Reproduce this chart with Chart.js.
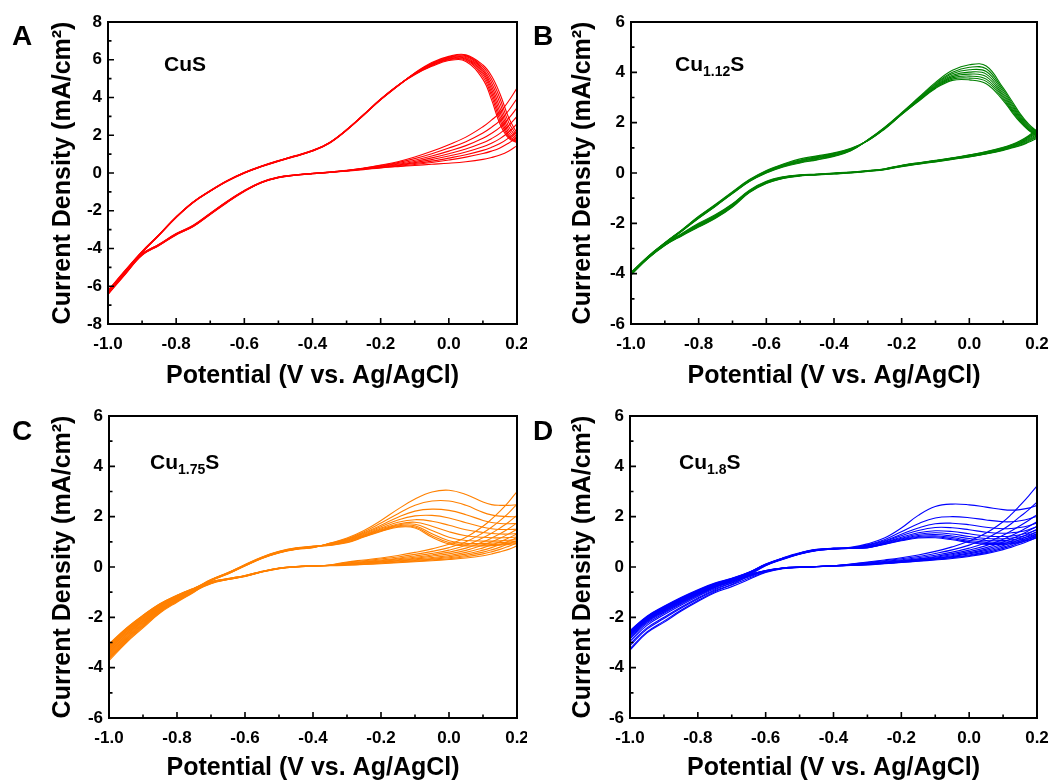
<!DOCTYPE html>
<html lang="en">
<head>
<meta charset="UTF-8">
<title>Cyclic voltammograms of copper sulfides</title>
<script src="https://cdn.jsdelivr.net/npm/chart.js@4.4.1/dist/chart.umd.min.js"></script>
<style>
    body { margin: 0; background: #fff; }
    #figure { position: relative; width: 1055px; height: 781px; overflow: hidden; }
    #figure canvas { position: absolute; }
</style>
</head>
<body>
<div id="figure">
    <canvas id="panelA" width="527" height="390" style="left:0;top:0"></canvas>
    <canvas id="panelB" width="528" height="390" style="left:527px;top:0"></canvas>
    <canvas id="panelC" width="527" height="391" style="left:0;top:390px"></canvas>
    <canvas id="panelD" width="528" height="391" style="left:527px;top:390px"></canvas>
</div>
<script>
// potential grid (V vs. Ag/AgCl) shared by every sweep
const potential = [-1.0, -0.95, -0.9, -0.85, -0.8, -0.75, -0.7, -0.65, -0.6, -0.55, -0.5, -0.45, -0.4,
    -0.35, -0.3, -0.25, -0.2, -0.15, -0.1, -0.05, 0.0, 0.05, 0.1, 0.125, 0.15, 0.175, 0.2];

const xTicks = [-1.0, -0.8, -0.6, -0.4, -0.2, 0.0, 0.2];
const xMinorTicks = [-0.9, -0.7, -0.5, -0.3, -0.1, 0.1];
const yTicksWide = [-8, -6, -4, -2, 0, 2, 4, 6, 8];
const yMinorWide = [-7, -5, -3, -1, 1, 3, 5, 7];
const yTicksNarrow = [-6, -4, -2, 0, 2, 4, 6];
const yMinorNarrow = [-5, -3, -1, 1, 3, 5];

// current density (mA/cm2), one row per cycle
const cusAnodic = [
    [-6.42,-5.30,-4.22,-3.30,-2.36,-1.57,-0.97,-0.44,-0.01,0.33,0.62,0.88,1.16,1.58,2.26,3.06,3.88,4.60,5.30,5.85,6.18,6.26,5.72,5.15,4.20,2.95,2.10],
    [-6.38,-5.28,-4.21,-3.29,-2.35,-1.56,-0.96,-0.43,0.00,0.34,0.63,0.89,1.17,1.59,2.27,3.07,3.89,4.61,5.29,5.82,6.15,6.22,5.62,4.98,3.95,2.70,1.98],
    [-6.35,-5.26,-4.20,-3.28,-2.35,-1.55,-0.96,-0.43,0.00,0.34,0.63,0.89,1.17,1.59,2.27,3.07,3.89,4.61,5.28,5.79,6.12,6.17,5.52,4.80,3.70,2.48,1.88],
    [-6.32,-5.24,-4.19,-3.28,-2.34,-1.55,-0.95,-0.42,0.01,0.35,0.64,0.90,1.18,1.60,2.28,3.08,3.90,4.62,5.27,5.76,6.09,6.12,5.42,4.62,3.45,2.30,1.80],
    [-6.30,-5.22,-4.18,-3.27,-2.34,-1.54,-0.95,-0.42,0.01,0.35,0.64,0.90,1.18,1.60,2.28,3.08,3.90,4.62,5.26,5.73,6.06,6.07,5.32,4.45,3.22,2.15,1.74],
    [-6.27,-5.20,-4.17,-3.27,-2.33,-1.54,-0.94,-0.41,0.02,0.36,0.65,0.91,1.19,1.61,2.29,3.09,3.91,4.63,5.25,5.70,6.03,6.02,5.22,4.28,3.00,2.02,1.68],
    [-6.25,-5.18,-4.16,-3.26,-2.33,-1.53,-0.94,-0.41,0.02,0.36,0.65,0.91,1.19,1.61,2.29,3.09,3.91,4.63,5.23,5.68,6.00,5.97,5.10,4.10,2.80,1.93,1.64],
    [-6.22,-5.16,-4.15,-3.26,-2.32,-1.53,-0.93,-0.40,0.03,0.37,0.66,0.92,1.20,1.62,2.30,3.10,3.92,4.64,5.21,5.65,5.96,5.91,4.96,3.90,2.60,1.85,1.60]
];
const cusCathodic = [
    [-6.20,-5.30,-4.28,-3.77,-3.21,-2.77,-2.13,-1.49,-0.93,-0.48,-0.22,-0.10,-0.02,0.05,0.14,0.26,0.42,0.60,0.85,1.15,1.50,1.90,2.45,2.80,3.20,3.80,4.50],
    [-6.24,-5.31,-4.29,-3.78,-3.22,-2.78,-2.14,-1.50,-0.94,-0.49,-0.22,-0.10,-0.02,0.05,0.13,0.25,0.39,0.55,0.76,1.02,1.32,1.66,2.12,2.42,2.78,3.30,3.95],
    [-6.28,-5.32,-4.30,-3.79,-3.23,-2.79,-2.15,-1.51,-0.94,-0.49,-0.23,-0.11,-0.03,0.04,0.13,0.24,0.36,0.50,0.68,0.90,1.16,1.45,1.84,2.10,2.42,2.88,3.45],
    [-6.31,-5.33,-4.31,-3.80,-3.24,-2.80,-2.16,-1.52,-0.95,-0.50,-0.23,-0.11,-0.03,0.04,0.12,0.23,0.34,0.46,0.61,0.80,1.02,1.27,1.60,1.82,2.10,2.50,3.00],
    [-6.34,-5.34,-4.32,-3.81,-3.25,-2.81,-2.17,-1.53,-0.96,-0.50,-0.24,-0.11,-0.03,0.04,0.12,0.22,0.32,0.42,0.55,0.71,0.90,1.11,1.39,1.58,1.82,2.16,2.60],
    [-6.37,-5.35,-4.33,-3.82,-3.26,-2.82,-2.18,-1.54,-0.96,-0.51,-0.24,-0.12,-0.04,0.03,0.11,0.21,0.30,0.39,0.50,0.63,0.79,0.97,1.20,1.36,1.56,1.85,2.22],
    [-6.40,-5.36,-4.34,-3.83,-3.27,-2.83,-2.19,-1.55,-0.97,-0.51,-0.25,-0.12,-0.04,0.03,0.11,0.20,0.28,0.36,0.45,0.56,0.69,0.84,1.03,1.16,1.33,1.58,1.88],
    [-6.44,-5.38,-4.36,-3.84,-3.28,-2.84,-2.20,-1.56,-0.98,-0.52,-0.25,-0.12,-0.04,0.03,0.10,0.18,0.27,0.34,0.40,0.46,0.52,0.60,0.72,0.82,0.95,1.15,1.45]
];

const cu112Anodic = [
    [-4.05,-3.38,-2.82,-2.32,-1.80,-1.32,-0.82,-0.34,0.00,0.24,0.40,0.52,0.66,0.88,1.32,1.82,2.40,3.00,3.60,4.08,4.30,4.25,3.38,2.88,2.36,1.95,1.65],
    [-4.03,-3.37,-2.81,-2.31,-1.79,-1.31,-0.81,-0.33,0.01,0.26,0.42,0.54,0.68,0.89,1.31,1.81,2.38,2.97,3.55,4.00,4.20,4.14,3.30,2.80,2.30,1.90,1.62],
    [-4.02,-3.36,-2.80,-2.30,-1.78,-1.30,-0.80,-0.32,0.03,0.28,0.44,0.57,0.70,0.91,1.31,1.80,2.37,2.95,3.52,3.94,4.10,4.03,3.22,2.73,2.24,1.86,1.59],
    [-4.00,-3.35,-2.80,-2.29,-1.77,-1.29,-0.79,-0.31,0.04,0.29,0.46,0.59,0.72,0.92,1.30,1.79,2.36,2.93,3.48,3.88,4.01,3.93,3.14,2.66,2.19,1.82,1.56],
    [-3.99,-3.34,-2.79,-2.28,-1.76,-1.28,-0.78,-0.30,0.06,0.31,0.48,0.61,0.74,0.94,1.30,1.78,2.35,2.91,3.45,3.83,3.93,3.83,3.07,2.59,2.14,1.78,1.53],
    [-3.98,-3.33,-2.78,-2.28,-1.75,-1.27,-0.77,-0.29,0.07,0.32,0.50,0.63,0.76,0.95,1.29,1.77,2.34,2.89,3.42,3.78,3.85,3.73,3.00,2.53,2.10,1.75,1.51],
    [-3.97,-3.32,-2.78,-2.27,-1.74,-1.26,-0.76,-0.28,0.08,0.34,0.52,0.65,0.78,0.96,1.29,1.76,2.33,2.87,3.39,3.73,3.77,3.64,2.94,2.48,2.06,1.72,1.49],
    [-3.95,-3.31,-2.77,-2.26,-1.72,-1.24,-0.74,-0.26,0.10,0.36,0.56,0.68,0.80,0.98,1.28,1.75,2.32,2.85,3.36,3.68,3.70,3.55,2.88,2.43,2.02,1.70,1.47]
];
const cu112Cathodic = [
    [-4.05,-3.40,-2.88,-2.50,-2.15,-1.80,-1.35,-0.78,-0.42,-0.22,-0.12,-0.08,-0.04,0.00,0.06,0.13,0.25,0.35,0.44,0.54,0.64,0.76,0.90,0.99,1.08,1.22,1.38],
    [-4.03,-3.39,-2.87,-2.48,-2.13,-1.78,-1.33,-0.77,-0.41,-0.21,-0.11,-0.07,-0.03,0.01,0.07,0.14,0.26,0.36,0.45,0.55,0.65,0.77,0.92,1.01,1.11,1.26,1.43],
    [-4.02,-3.38,-2.86,-2.47,-2.11,-1.76,-1.31,-0.75,-0.39,-0.20,-0.11,-0.07,-0.03,0.01,0.07,0.14,0.27,0.37,0.46,0.56,0.66,0.78,0.93,1.03,1.14,1.30,1.48],
    [-4.00,-3.37,-2.85,-2.46,-2.09,-1.74,-1.29,-0.74,-0.38,-0.19,-0.10,-0.06,-0.02,0.02,0.08,0.15,0.28,0.38,0.47,0.57,0.67,0.80,0.95,1.05,1.17,1.34,1.53],
    [-3.99,-3.37,-2.84,-2.45,-2.07,-1.72,-1.27,-0.72,-0.37,-0.18,-0.09,-0.06,-0.02,0.02,0.08,0.15,0.29,0.39,0.48,0.58,0.68,0.81,0.97,1.07,1.19,1.38,1.58],
    [-3.98,-3.36,-2.84,-2.43,-2.05,-1.70,-1.26,-0.71,-0.36,-0.17,-0.09,-0.05,-0.01,0.03,0.09,0.16,0.30,0.40,0.49,0.59,0.70,0.82,0.98,1.09,1.22,1.42,1.63],
    [-3.97,-3.36,-2.83,-2.42,-2.03,-1.68,-1.24,-0.70,-0.35,-0.16,-0.08,-0.05,-0.01,0.03,0.09,0.16,0.30,0.40,0.49,0.59,0.71,0.84,1.00,1.11,1.25,1.45,1.69],
    [-3.95,-3.35,-2.82,-2.40,-2.00,-1.65,-1.22,-0.68,-0.33,-0.15,-0.07,-0.04,0.00,0.04,0.10,0.17,0.31,0.41,0.50,0.60,0.72,0.85,1.02,1.13,1.28,1.48,1.75]
];

const cu175Anodic = [
    [-3.72,-3.02,-2.42,-1.83,-1.40,-1.00,-0.55,-0.28,0.04,0.34,0.56,0.70,0.77,0.95,1.15,1.45,1.85,2.30,2.70,2.98,3.05,2.88,2.58,2.48,2.45,2.45,2.47],
    [-3.62,-2.94,-2.35,-1.78,-1.37,-0.98,-0.55,-0.27,0.05,0.35,0.57,0.71,0.78,0.94,1.12,1.40,1.75,2.12,2.45,2.62,2.62,2.45,2.17,2.07,2.02,2.00,2.00],
    [-3.53,-2.86,-2.29,-1.73,-1.33,-0.96,-0.54,-0.26,0.05,0.35,0.57,0.71,0.78,0.93,1.10,1.36,1.66,1.98,2.22,2.30,2.25,2.08,1.85,1.77,1.73,1.72,1.73],
    [-3.45,-2.79,-2.23,-1.69,-1.30,-0.94,-0.53,-0.26,0.06,0.36,0.58,0.72,0.79,0.92,1.08,1.33,1.60,1.87,2.03,2.05,1.95,1.76,1.58,1.52,1.49,1.49,1.50],
    [-3.38,-2.72,-2.17,-1.65,-1.27,-0.92,-0.53,-0.25,0.07,0.36,0.58,0.72,0.79,0.91,1.06,1.30,1.55,1.78,1.88,1.82,1.66,1.48,1.37,1.33,1.31,1.31,1.33],
    [-3.31,-2.66,-2.12,-1.61,-1.24,-0.90,-0.52,-0.24,0.07,0.37,0.59,0.73,0.80,0.90,1.04,1.27,1.51,1.71,1.78,1.62,1.40,1.24,1.18,1.16,1.16,1.17,1.19],
    [-3.25,-2.60,-2.07,-1.57,-1.21,-0.89,-0.52,-0.24,0.08,0.37,0.60,0.74,0.81,0.89,1.02,1.25,1.48,1.67,1.70,1.45,1.18,1.05,1.03,1.03,1.04,1.06,1.09],
    [-3.19,-2.55,-2.02,-1.53,-1.18,-0.87,-0.51,-0.23,0.08,0.38,0.60,0.74,0.81,0.88,1.00,1.23,1.45,1.64,1.64,1.32,1.04,0.94,0.94,0.95,0.97,0.99,1.02],
    [-3.13,-2.50,-1.97,-1.50,-1.15,-0.86,-0.51,-0.23,0.09,0.39,0.61,0.75,0.82,0.87,0.98,1.21,1.43,1.61,1.59,1.24,0.97,0.88,0.88,0.89,0.91,0.94,0.97],
    [-3.08,-2.45,-1.92,-1.46,-1.12,-0.84,-0.50,-0.22,0.10,0.40,0.62,0.76,0.83,0.86,0.96,1.19,1.41,1.58,1.55,1.18,0.92,0.84,0.84,0.85,0.87,0.90,0.93]
];
const cu175Cathodic = [
    [-3.66,-2.98,-2.38,-1.80,-1.36,-0.97,-0.66,-0.50,-0.38,-0.20,-0.07,0.00,0.03,0.08,0.20,0.28,0.36,0.46,0.58,0.72,0.90,1.18,1.62,1.90,2.22,2.58,3.00],
    [-3.57,-2.90,-2.32,-1.75,-1.33,-0.95,-0.65,-0.50,-0.38,-0.20,-0.07,0.00,0.03,0.08,0.18,0.25,0.32,0.40,0.50,0.62,0.77,1.00,1.36,1.58,1.84,2.14,2.50],
    [-3.49,-2.83,-2.26,-1.71,-1.30,-0.93,-0.64,-0.49,-0.37,-0.19,-0.06,0.00,0.03,0.07,0.16,0.22,0.28,0.35,0.44,0.54,0.67,0.86,1.16,1.34,1.55,1.78,2.05],
    [-3.42,-2.76,-2.20,-1.67,-1.27,-0.91,-0.63,-0.49,-0.37,-0.19,-0.06,0.01,0.04,0.07,0.14,0.20,0.25,0.32,0.39,0.48,0.59,0.75,1.00,1.15,1.32,1.52,1.75],
    [-3.35,-2.70,-2.15,-1.63,-1.24,-0.90,-0.62,-0.48,-0.36,-0.19,-0.06,0.01,0.04,0.07,0.13,0.18,0.23,0.29,0.35,0.43,0.52,0.66,0.87,1.00,1.14,1.31,1.50],
    [-3.28,-2.64,-2.10,-1.59,-1.21,-0.88,-0.61,-0.48,-0.36,-0.18,-0.05,0.01,0.04,0.06,0.12,0.16,0.21,0.26,0.32,0.38,0.46,0.58,0.76,0.87,1.00,1.15,1.32],
    [-3.22,-2.58,-2.05,-1.55,-1.18,-0.87,-0.60,-0.47,-0.35,-0.18,-0.05,0.01,0.04,0.06,0.11,0.15,0.19,0.24,0.29,0.34,0.41,0.51,0.67,0.77,0.89,1.02,1.17],
    [-3.16,-2.53,-2.00,-1.52,-1.16,-0.86,-0.60,-0.47,-0.35,-0.18,-0.05,0.02,0.05,0.06,0.09,0.13,0.17,0.21,0.26,0.31,0.37,0.46,0.59,0.68,0.79,0.92,1.05],
    [-3.11,-2.48,-1.96,-1.49,-1.14,-0.85,-0.59,-0.46,-0.34,-0.17,-0.04,0.02,0.05,0.06,0.08,0.11,0.15,0.19,0.23,0.28,0.33,0.41,0.52,0.60,0.70,0.82,0.95],
    [-3.06,-2.44,-1.92,-1.46,-1.12,-0.84,-0.59,-0.46,-0.34,-0.17,-0.04,0.02,0.05,0.05,0.07,0.10,0.13,0.17,0.21,0.25,0.30,0.36,0.45,0.52,0.60,0.70,0.84]
];

const cu18Anodic = [
    [-3.25,-2.58,-2.15,-1.72,-1.33,-0.98,-0.70,-0.35,0.05,0.30,0.51,0.65,0.72,0.78,0.92,1.15,1.55,2.05,2.40,2.50,2.47,2.38,2.28,2.26,2.28,2.34,2.45],
    [-3.05,-2.42,-2.00,-1.60,-1.23,-0.90,-0.63,-0.31,0.06,0.31,0.52,0.66,0.71,0.76,0.88,1.08,1.40,1.72,1.95,2.00,1.96,1.87,1.80,1.80,1.84,1.91,2.02],
    [-2.85,-2.25,-1.84,-1.47,-1.13,-0.82,-0.57,-0.28,0.07,0.32,0.52,0.66,0.71,0.75,0.86,1.04,1.30,1.55,1.72,1.74,1.68,1.58,1.52,1.53,1.57,1.64,1.75],
    [-2.75,-2.17,-1.77,-1.41,-1.08,-0.78,-0.54,-0.26,0.08,0.32,0.53,0.67,0.72,0.75,0.84,1.01,1.24,1.45,1.57,1.56,1.48,1.38,1.34,1.36,1.40,1.48,1.60],
    [-2.70,-2.12,-1.72,-1.37,-1.04,-0.75,-0.52,-0.25,0.09,0.33,0.53,0.67,0.72,0.75,0.82,0.98,1.18,1.36,1.44,1.41,1.32,1.23,1.21,1.23,1.28,1.36,1.48],
    [-2.66,-2.08,-1.68,-1.33,-1.01,-0.72,-0.50,-0.24,0.09,0.33,0.54,0.68,0.73,0.75,0.80,0.96,1.14,1.30,1.36,1.31,1.21,1.13,1.12,1.15,1.20,1.28,1.40],
    [-2.62,-2.04,-1.65,-1.30,-0.98,-0.70,-0.48,-0.23,0.10,0.34,0.54,0.68,0.73,0.75,0.79,0.94,1.11,1.25,1.29,1.23,1.13,1.05,1.05,1.08,1.13,1.21,1.33],
    [-2.59,-2.01,-1.62,-1.27,-0.95,-0.68,-0.47,-0.22,0.10,0.35,0.55,0.69,0.74,0.75,0.78,0.92,1.08,1.21,1.24,1.17,1.06,0.99,0.99,1.02,1.07,1.15,1.27],
    [-2.56,-1.98,-1.59,-1.24,-0.93,-0.66,-0.46,-0.22,0.11,0.35,0.55,0.69,0.74,0.75,0.77,0.91,1.06,1.18,1.20,1.12,1.01,0.94,0.94,0.97,1.02,1.10,1.22],
    [-2.53,-1.95,-1.56,-1.21,-0.90,-0.64,-0.45,-0.21,0.12,0.36,0.56,0.70,0.75,0.75,0.76,0.90,1.04,1.15,1.16,1.08,0.97,0.90,0.90,0.93,0.98,1.06,1.17]
];
const cu18Cathodic = [
    [-3.30,-2.62,-2.20,-1.76,-1.37,-1.02,-0.78,-0.50,-0.22,-0.07,-0.02,0.01,0.05,0.12,0.20,0.28,0.37,0.48,0.62,0.80,1.03,1.35,1.80,2.10,2.45,2.82,3.22],
    [-3.12,-2.47,-2.05,-1.64,-1.27,-0.94,-0.71,-0.45,-0.20,-0.06,-0.02,0.01,0.05,0.11,0.18,0.25,0.33,0.42,0.54,0.68,0.87,1.13,1.50,1.73,2.00,2.27,2.58],
    [-2.95,-2.32,-1.90,-1.52,-1.17,-0.86,-0.64,-0.40,-0.18,-0.06,-0.01,0.01,0.05,0.10,0.16,0.22,0.29,0.37,0.47,0.59,0.75,0.96,1.26,1.44,1.64,1.85,2.08],
    [-2.80,-2.20,-1.80,-1.44,-1.10,-0.81,-0.60,-0.37,-0.17,-0.05,-0.01,0.01,0.05,0.09,0.14,0.20,0.26,0.33,0.42,0.53,0.67,0.85,1.10,1.25,1.42,1.60,1.80],
    [-2.72,-2.14,-1.74,-1.39,-1.06,-0.78,-0.57,-0.35,-0.16,-0.05,-0.01,0.02,0.05,0.08,0.13,0.18,0.24,0.31,0.39,0.49,0.61,0.77,0.99,1.12,1.27,1.44,1.62],
    [-2.67,-2.10,-1.70,-1.35,-1.03,-0.75,-0.55,-0.34,-0.16,-0.05,-0.01,0.02,0.04,0.08,0.12,0.17,0.22,0.29,0.36,0.45,0.56,0.71,0.91,1.03,1.17,1.33,1.50],
    [-2.63,-2.06,-1.66,-1.32,-1.00,-0.73,-0.53,-0.33,-0.15,-0.04,0.00,0.02,0.04,0.07,0.11,0.16,0.21,0.27,0.34,0.42,0.52,0.66,0.85,0.96,1.09,1.24,1.40],
    [-2.60,-2.03,-1.63,-1.29,-0.97,-0.71,-0.52,-0.32,-0.15,-0.04,0.00,0.02,0.04,0.07,0.10,0.15,0.20,0.25,0.32,0.39,0.48,0.61,0.79,0.90,1.02,1.16,1.32],
    [-2.57,-2.00,-1.60,-1.26,-0.95,-0.69,-0.51,-0.31,-0.14,-0.04,0.00,0.02,0.04,0.06,0.09,0.14,0.19,0.24,0.30,0.37,0.45,0.57,0.74,0.84,0.96,1.10,1.25],
    [-2.54,-1.97,-1.58,-1.24,-0.93,-0.67,-0.50,-0.31,-0.14,-0.04,0.00,0.02,0.04,0.06,0.08,0.13,0.18,0.23,0.28,0.34,0.42,0.53,0.69,0.79,0.90,1.03,1.18]
];

const FONT = '"Liberation Sans", Arial, Helvetica, sans-serif';

// frame, inward tick marks, panel letter and sample name
const panelDecor = {
    id: 'panelDecor',
    afterDraw(chart, args, opts) {
        const { ctx, chartArea: area, scales: { x, y } } = chart;
        ctx.save();
        ctx.strokeStyle = '#000';
        ctx.lineWidth = 1.6;
        ctx.beginPath();
        xTicks.forEach(v => { const px = x.getPixelForValue(v); ctx.moveTo(px, area.bottom); ctx.lineTo(px, area.bottom - 6); });
        xMinorTicks.forEach(v => { const px = x.getPixelForValue(v); ctx.moveTo(px, area.bottom); ctx.lineTo(px, area.bottom - 3.5); });
        opts.yMajor.forEach(v => { const py = y.getPixelForValue(v); ctx.moveTo(area.left, py); ctx.lineTo(area.left + 6, py); });
        opts.yMinor.forEach(v => { const py = y.getPixelForValue(v); ctx.moveTo(area.left, py); ctx.lineTo(area.left + 3.5, py); });
        ctx.stroke();
        ctx.lineWidth = 2;
        ctx.strokeRect(area.left, area.top, area.right - area.left, area.bottom - area.top);

        ctx.fillStyle = '#000';
        ctx.textBaseline = 'alphabetic';
        ctx.textAlign = 'left';
        ctx.font = 'bold 28px ' + FONT;
        ctx.fillText(opts.letter, opts.letterPos[0], opts.letterPos[1]);

        // sample name with subscript
        let cx = opts.namePos[0];
        opts.name.forEach(part => {
            ctx.font = 'bold ' + (part.sub ? 14 : 21) + 'px ' + FONT;
            ctx.fillText(part.text, cx, opts.namePos[1] + (part.sub ? 5 : 0));
            cx += ctx.measureText(part.text).width;
        });
        ctx.restore();
    }
};

function sweepData(values) {
    return values.map((v, i) => ({ x: potential[i], y: v }));
}

function drawPanel(canvasId, p) {
    const sweeps = p.anodic.concat(p.cathodic);
    const tickFont = { family: FONT, size: 17, weight: 'bold' };
    const titleFont = { family: FONT, size: 25, weight: 'bold', lineHeight: 1 };
    new Chart(document.getElementById(canvasId), {
        type: 'line',
        data: {
            datasets: sweeps.map(s => ({
                data: sweepData(s),
                borderColor: p.color,
                borderWidth: 1.1,
                pointRadius: 0,
                tension: 0.4,
                fill: false
            }))
        },
        options: {
            responsive: false,
            animation: false,
            devicePixelRatio: 1,
            layout: { autoPadding: false, padding: { left: 0, top: p.top, right: p.right, bottom: 0 } },
            plugins: {
                legend: { display: false },
                tooltip: { enabled: false },
                panelDecor: { letter: p.letter, letterPos: p.letterPos, name: p.name, namePos: p.namePos, yMajor: p.yTicks, yMinor: p.yMinor }
            },
            scales: {
                x: {
                    type: 'linear',
                    min: -1.0,
                    max: 0.2,
                    afterBuildTicks: s => { s.ticks = xTicks.map(v => ({ value: v })); },
                    afterFit: s => {
                        s.height = p.xHeight;
                        // end labels may overhang the frame, keep the plot width fixed
                        s.paddingLeft = 0;
                        s.paddingRight = 0;
                    },
                    grid: { display: false, drawTicks: false },
                    border: { display: false },
                    ticks: { color: '#000', font: tickFont, padding: 10, maxRotation: 0, autoSkip: false, callback: v => v.toFixed(1) },
                    title: { display: true, text: 'Potential (V vs. Ag/AgCl)', color: '#000', font: titleFont, padding: { top: 0, bottom: p.xTitlePad } }
                },
                y: {
                    type: 'linear',
                    min: p.yTicks[0],
                    max: p.yTicks[p.yTicks.length - 1],
                    afterBuildTicks: s => { s.ticks = p.yTicks.map(v => ({ value: v })); },
                    afterFit: s => {
                        s.width = p.yWidth;
                        s.paddingTop = 0;
                        s.paddingBottom = 0;
                    },
                    grid: { display: false, drawTicks: false },
                    border: { display: false },
                    ticks: { color: '#000', font: tickFont, padding: 6, autoSkip: false, callback: v => String(v) },
                    title: { display: true, text: 'Current Density (mA/cm²)', color: '#000', font: titleFont, padding: { top: p.yTitlePad, bottom: 0 } }
                }
            }
        },
        plugins: [panelDecor]
    });
}

drawPanel('panelA', {
    anodic: cusAnodic, cathodic: cusCathodic, color: '#ff0000',
    yTicks: yTicksWide, yMinor: yMinorWide,
    top: 22, right: 10, yWidth: 108, xHeight: 66, xTitlePad: 1.5, yTitlePad: 50.5,
    letter: 'A', letterPos: [12, 45], name: [{ text: 'CuS' }], namePos: [164, 71]
});
drawPanel('panelB', {
    anodic: cu112Anodic, cathodic: cu112Cathodic, color: '#008000',
    yTicks: yTicksNarrow, yMinor: yMinorNarrow,
    top: 22, right: 18, yWidth: 104, xHeight: 66, xTitlePad: 1.5, yTitlePad: 43.5,
    letter: 'B', letterPos: [6, 45], name: [{ text: 'Cu' }, { text: '1.12', sub: true }, { text: 'S' }], namePos: [148, 71]
});
drawPanel('panelC', {
    anodic: cu175Anodic, cathodic: cu175Cathodic, color: '#ff8000',
    yTicks: yTicksNarrow, yMinor: yMinorNarrow,
    top: 26, right: 10, yWidth: 109, xHeight: 63, xTitlePad: 0.5, yTitlePad: 50.5,
    letter: 'C', letterPos: [12, 50], name: [{ text: 'Cu' }, { text: '1.75', sub: true }, { text: 'S' }], namePos: [150, 79]
});
drawPanel('panelD', {
    anodic: cu18Anodic, cathodic: cu18Cathodic, color: '#0000ff',
    yTicks: yTicksNarrow, yMinor: yMinorNarrow,
    top: 26, right: 18, yWidth: 103, xHeight: 63, xTitlePad: 0.5, yTitlePad: 43.5,
    letter: 'D', letterPos: [6, 50], name: [{ text: 'Cu' }, { text: '1.8', sub: true }, { text: 'S' }], namePos: [152, 79]
});
</script>
</body>
</html>
